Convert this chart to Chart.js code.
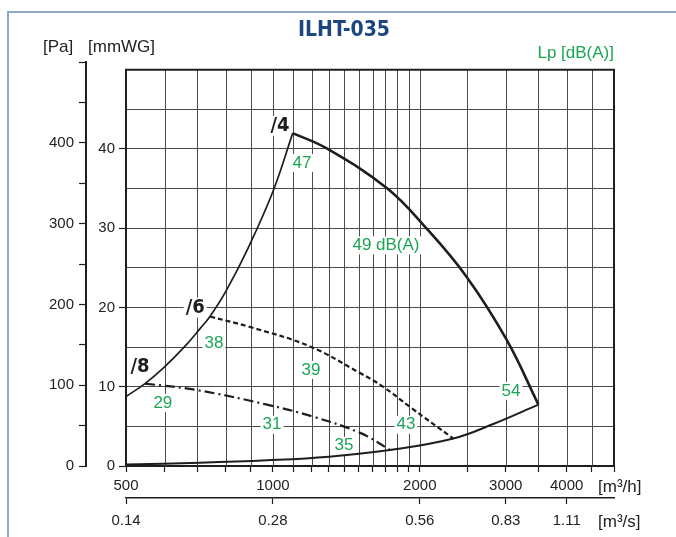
<!DOCTYPE html>
<html>
<head>
<meta charset="utf-8">
<title>ILHT-035</title>
<script src="https://cdn.jsdelivr.net/npm/chart.js@4.4.1/dist/chart.umd.min.js"></script>
<style>
    html, body { margin: 0; padding: 0; background: #fff; }
    #wrap { position: relative; width: 676px; height: 537px; }
</style>
</head>
<body>
<div id="wrap"><canvas id="myChart"></canvas></div>
<script>
// ILHT-035 - curvas de ventilador

// Ejes
const gridFlow = [500, 600, 700, 800, 900, 1000, 1100, 1200, 1300, 1400, 1500, 1600, 1700, 1800, 1900,
    2000, 2500, 3000, 3500, 4000, 4500, 5000];
const labelFlow = [500, 1000, 2000, 3000, 4000];
const labelFlowSec = ['0.14', '0.28', '0.56', '0.83', '1.11'];
const gridMmwg = [0, 5, 10, 15, 20, 25, 30, 35, 40, 45, 50];

// Curvas (m3/h, Pa)
const limiteFlow = [500, 547, 596, 660, 709, 743, 804, 890, 1002, 1098];
const limitePa = [86, 102, 121, 148, 170, 185, 218, 270, 341, 412];

const vel4Flow = [1098, 1289, 1711, 2050, 2495, 3014, 3500];
const vel4Pa = [412, 393, 344, 296, 234, 156, 76];

const vel6Flow = [743, 898, 1191, 1509, 1684, 1910, 2343];
const vel6Pa = [185, 172, 148, 115, 98, 73, 34];

const vel8Flow = [547, 698, 972, 1210, 1509, 1738];
const vel8Pa = [102, 94, 76, 61, 41, 20];

const sistemaFlow = [500, 709, 972, 1303, 1752, 2343, 2828, 3500];
const sistemaPa = [2, 4, 7, 11.5, 20, 34, 52, 76];

// Etiquetas Lp (texto, m3/h, Pa)
const ruidoTexto = ['47', '49 dB(A)', '54', '38', '39', '43', '29', '31', '35'];
const ruidoFlow = [1147, 1705, 3075, 757, 1197, 1874, 595, 996, 1399];
const ruidoPa = [375, 273, 93, 152, 119, 51, 78, 51, 25];

const velTexto = ['/4', '/6', '/8'];
const velFlow = [1034, 693, 534];
const velPa = [421, 196, 123];

const VERDE = '#1ba655';
const NEGRO = '#1e1e1e';
const FUENTE = "'Liberation Sans', Arial, sans-serif";
const FUENTE_N = "'DejaVu Sans Condensed', sans-serif";

const puntos = (xs, ys) => xs.map((x, i) => ({ x: x, y: ys[i] }));

const dibujoExtra = {
    id: 'dibujoExtra',
    beforeDraw(chart) {
        const c = chart.ctx;
        c.save();
        c.strokeStyle = '#8eaacb';
        c.lineWidth = 2;
        c.beginPath();
        c.moveTo(8, 537);
        c.lineTo(8, 12);
        c.lineTo(676, 12);
        c.stroke();
        c.restore();
    },
    beforeDatasetsDraw(chart) {
        const c = chart.ctx;
        const x = chart.scales.x, yw = chart.scales.yw, y = chart.scales.y;
        const top = yw.getPixelForValue(50), bot = yw.getPixelForValue(0);
        c.save();
        // lineas verticales
        c.strokeStyle = '#4a4a4a';
        c.lineWidth = 1;
        gridFlow.forEach(v => {
            const px = Math.round(x.getPixelForValue(v)) + 0.5;
            c.beginPath();
            c.moveTo(px, top);
            c.lineTo(px, bot);
            c.stroke();
        });
        // marco
        c.strokeStyle = NEGRO;
        c.lineWidth = 2;
        c.beginPath();
        c.moveTo(x.getPixelForValue(500), bot);
        c.lineTo(x.getPixelForValue(500), top);
        c.lineTo(x.getPixelForValue(5000), top);
        c.lineTo(x.getPixelForValue(5000), bot);
        c.stroke();

        // etiquetas de ruido
        c.textAlign = 'center';
        c.textBaseline = 'middle';
        c.font = '17px ' + FUENTE;
        ruidoTexto.forEach((t, i) => {
            const px = x.getPixelForValue(ruidoFlow[i]), py = y.getPixelForValue(ruidoPa[i]);
            const w = c.measureText(t).width;
            c.fillStyle = '#fff';
            c.fillRect(px - w / 2 - 2, py - 9, w + 4, 18);
            c.fillStyle = VERDE;
            c.fillText(t, px, py);
        });
        // etiquetas de velocidad
        c.font = 'bold 20px ' + FUENTE_N;
        velTexto.forEach((t, i) => {
            const px = x.getPixelForValue(velFlow[i]), py = y.getPixelForValue(velPa[i]);
            const w = c.measureText(t).width;
            c.fillStyle = '#fff';
            c.fillRect(px - w / 2 - 2, py - 10, w + 4, 20);
            c.fillStyle = NEGRO;
            c.fillText(t, px, py);
        });
        c.restore();
    },
    afterDraw(chart) {
        const c = chart.ctx;
        c.save();
        c.textBaseline = 'middle';
        c.fillStyle = '#1b4683';
        c.textAlign = 'center';
        c.font = 'bold 21px ' + FUENTE_N;
        c.fillText('ILHT-035', 344, 31);
        c.fillStyle = '#222';
        c.textAlign = 'left';
        c.font = '17px ' + FUENTE;
        c.fillText('[Pa]', 43, 47);
        c.fillText('[mmWG]', 88, 47);
        c.fillText('[m³/h]', 598, 487);
        c.fillText('[m³/s]', 598, 522);
        c.fillStyle = VERDE;
        c.textAlign = 'right';
        c.fillText('Lp [dB(A)]', 614, 53);
        c.restore();
    }
};

function crearGrafico() {
    const ctx = document.getElementById('myChart').getContext('2d');
    const base = { pointRadius: 0, fill: false, tension: 0.4, borderColor: NEGRO, xAxisID: 'x', yAxisID: 'y' };
    const fuenteEje = { family: FUENTE, size: 15 };

    new Chart(ctx, {
        type: 'line',
        data: {
            datasets: [
                { ...base, label: 'limite', data: puntos(limiteFlow, limitePa), borderWidth: 1.7 },
                { ...base, label: '/4', data: puntos(vel4Flow, vel4Pa), borderWidth: 2.6 },
                { ...base, label: '/6', data: puntos(vel6Flow, vel6Pa), borderWidth: 2.2, borderDash: [5, 3] },
                { ...base, label: '/8', data: puntos(vel8Flow, vel8Pa), borderWidth: 2.2, borderDash: [10, 4, 2, 4] },
                { ...base, label: 'sistema', data: puntos(sistemaFlow, sistemaPa), borderWidth: 2 }
            ]
        },
        options: {
            responsive: true,
            maintainAspectRatio: false,
            animation: false,
            layout: { padding: { left: 10, right: 62, top: 62, bottom: 0 } },
            plugins: { legend: { display: false }, tooltip: { enabled: false }, title: { display: false } },
            scales: {
                x: {
                    type: 'logarithmic', position: 'bottom', min: 500, max: 5000,
                    afterBuildTicks: s => { s.ticks = gridFlow.map(v => ({ value: v })); },
                    afterFit: s => { s.height = 32; },
                    ticks: {
                        autoSkip: false, maxRotation: 0, padding: 5, color: '#222', font: fuenteEje,
                        callback: v => labelFlow.includes(v) ? String(v) : ''
                    },
                    grid: { drawOnChartArea: false, drawTicks: true, tickLength: 6, tickColor: NEGRO, tickWidth: 1.2 },
                    border: { display: true, color: NEGRO, width: 2 }
                },
                x2: {
                    type: 'logarithmic', position: 'bottom', min: 500, max: 5000,
                    afterBuildTicks: s => { s.ticks = labelFlow.map(v => ({ value: v })); },
                    afterFit: s => { s.height = 39; },
                    ticks: {
                        autoSkip: false, maxRotation: 0, padding: 8, color: '#222', font: fuenteEje,
                        callback: (v, i) => labelFlowSec[i]
                    },
                    grid: { drawOnChartArea: false, drawTicks: true, tickLength: 6, tickColor: NEGRO, tickWidth: 1.2 },
                    border: { display: true, color: NEGRO, width: 1.5 }
                },
                yw: {
                    type: 'linear', position: 'left', weight: 0, min: 0, max: 500 / 9.81,
                    afterBuildTicks: s => { s.ticks = gridMmwg.map(v => ({ value: v })); },
                    afterFit: s => { s.width = 40; },
                    ticks: {
                        padding: 4, color: '#222', font: fuenteEje,
                        callback: v => (v % 10 === 0 && v < 50) ? String(v) : ''
                    },
                    grid: {
                        color: '#4a4a4a', lineWidth: 1, tickLength: 7, tickWidth: 1.2,
                        tickColor: c => (c.tick && c.tick.value % 10 === 0 && c.tick.value < 50) ? NEGRO : 'rgba(0,0,0,0)'
                    },
                    border: { display: false }
                },
                y: {
                    type: 'linear', position: 'left', weight: 1, min: 0, max: 500,
                    afterFit: s => { s.width = 76; },
                    ticks: {
                        stepSize: 50, padding: 5, color: '#222', font: fuenteEje,
                        callback: v => (v % 100 === 0 && v < 500) ? String(v) : ''
                    },
                    grid: { drawOnChartArea: false, tickLength: 7, tickColor: NEGRO, tickWidth: 1.2 },
                    border: { display: true, color: NEGRO, width: 2 }
                }
            }
        },
        plugins: [dibujoExtra]
    });
}

crearGrafico();
</script>
</body>
</html>
